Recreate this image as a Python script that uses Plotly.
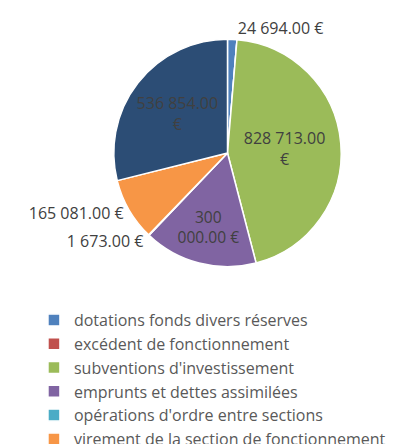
import plotly.graph_objects as go

# categories and values (€)
labels = [
    "dotations fonds divers réserves",
    "excédent de fonctionnement",
    "subventions d'investissement",
    "emprunts et dettes assimilées",
    "opérations d'ordre entre sections",
    "virement de la section de fonctionnement",
    "autres recettes",
]
values = [24694, 0, 828713, 300000, 1673, 165081, 536854]
colors = ["#4F81BD", "#C0504D", "#9BBB59", "#8064A2", "#4BACC6", "#F79646", "#2C4D75"]


def fmt(v):
    return f"{v:,.2f}".replace(",", " ") + " €"


# Excel-like label placement: small slices outside, big ones inside (wrapped)
positions = ["outside", "none", "inside", "inside", "outside", "outside", "inside"]
texts = []
for v, p in zip(values, positions):
    s = fmt(v)
    if p == "inside":
        num, eur = s.rsplit(" ", 1)
        if v == 300000:
            s = "300<br>000.00 €"
        else:
            s = num + "<br>" + eur
    texts.append(s)

H = 480  # taller than the window, so the last legend row falls off like the original

fig = go.Figure(go.Pie(
    labels=labels,
    values=values,
    text=texts,
    textinfo="text",
    textposition=positions,
    insidetextorientation="horizontal",
    sort=False,
    direction="clockwise",
    rotation=0,
    marker=dict(colors=colors, line=dict(color="white", width=1.5)),
    textfont=dict(family="Open Sans", size=16, color="#404040"),
    domain=dict(x=[0.2568, 0.8087], y=[1 - 258.7 / H, 1 - 31.3 / H]),
    hoverinfo="label+value",
))

fig.update_layout(
    width=412,
    height=H,
    margin=dict(l=0, r=0, t=0, b=0),
    paper_bgcolor="white",
    showlegend=True,
    legend=dict(
        orientation="v",
        x=0.063, xanchor="left",
        y=1 - 295 / H, yanchor="top",
        font=dict(family="Open Sans", size=16, color="#595959"),
        traceorder="normal",
    ),
)

fig.write_html("out.html")
